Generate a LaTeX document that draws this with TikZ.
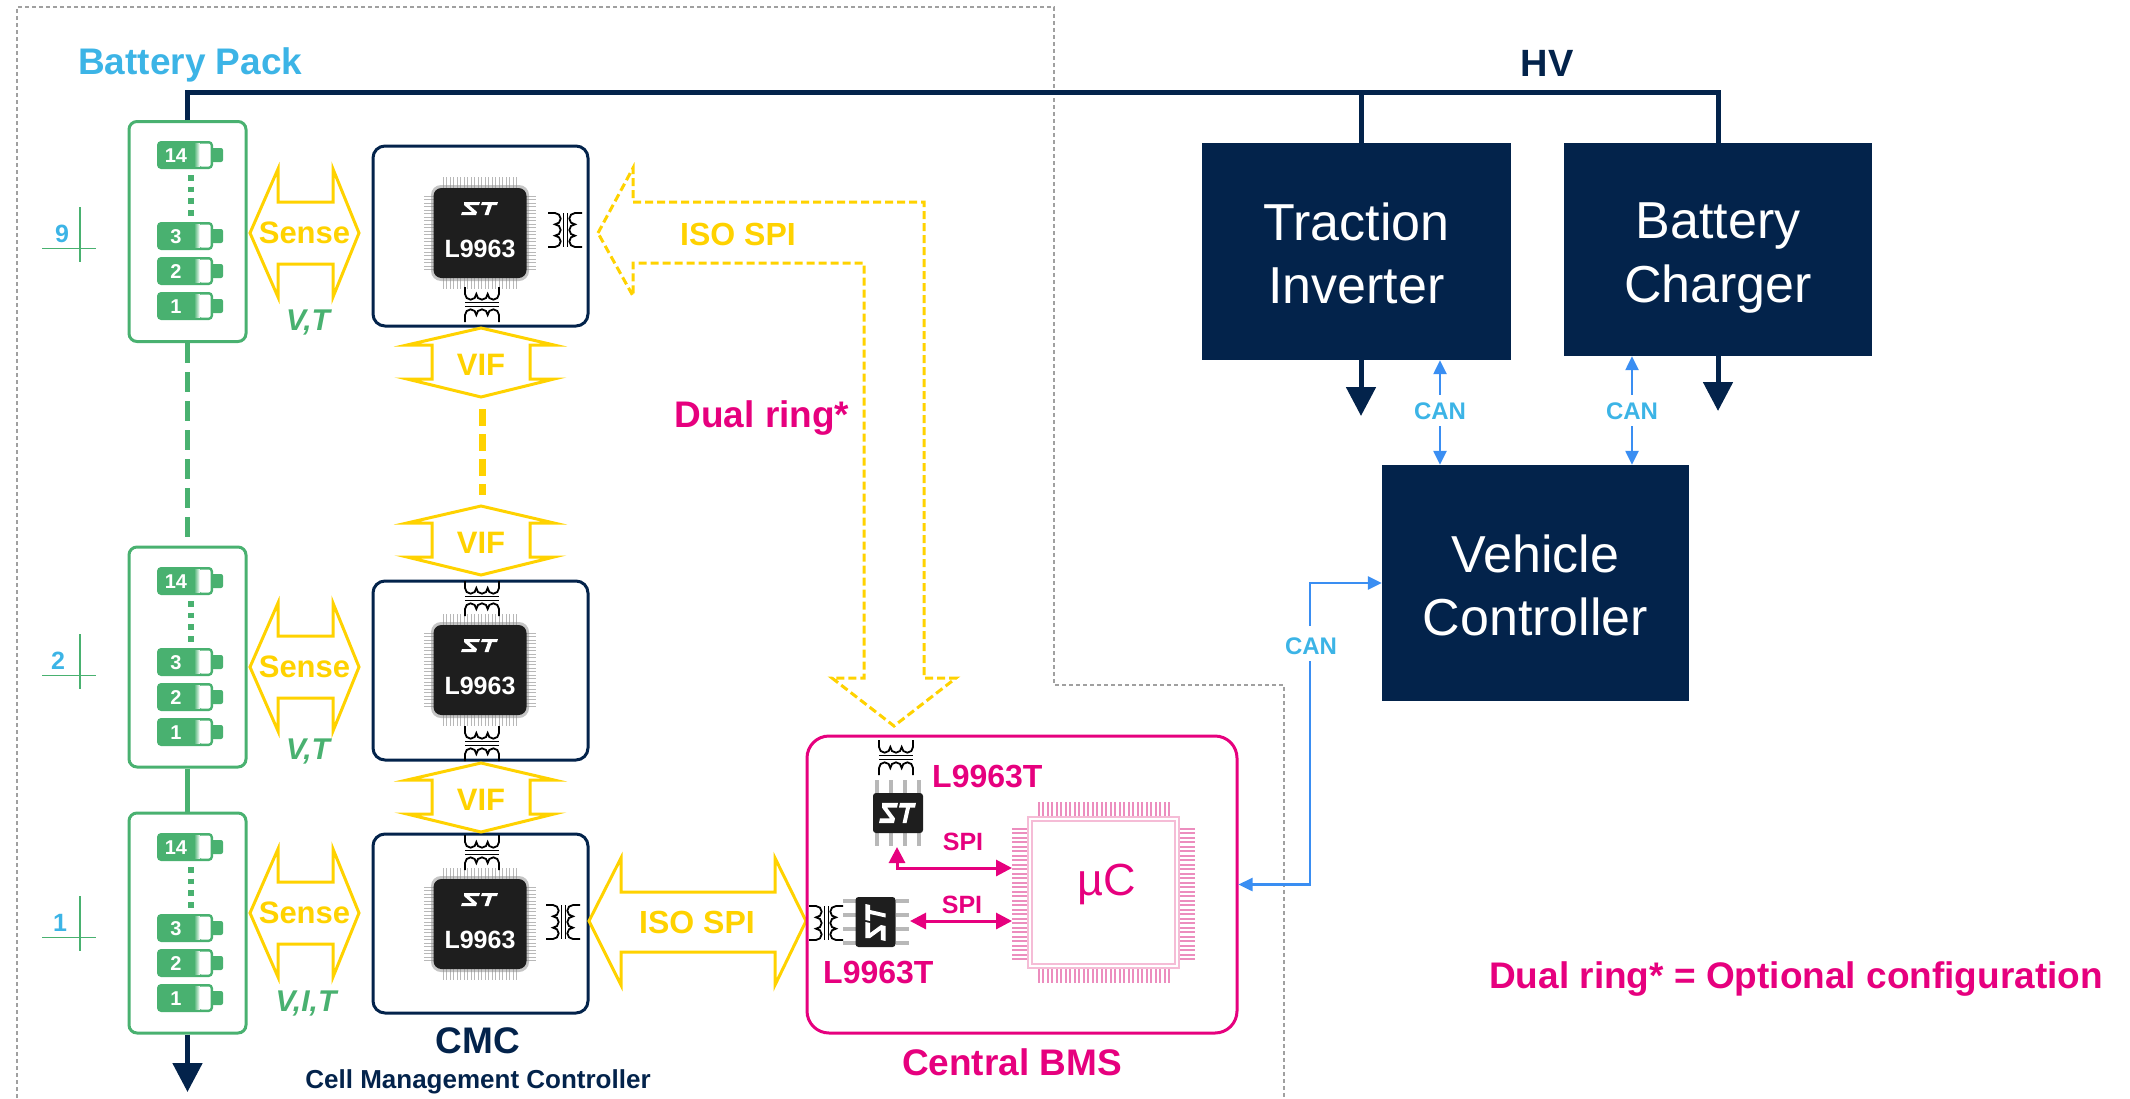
\documentclass[tikz,border=0pt]{standalone}
\usepackage{fontspec}
\setmainfont{Liberation Sans}
\usetikzlibrary{arrows.meta,calc}

\definecolor{stnavy}{HTML}{03234B}
\definecolor{styellow}{HTML}{FFD200}
\definecolor{stgreen}{HTML}{49B170}
\definecolor{stmagenta}{HTML}{E6007E}
\definecolor{stlblue}{HTML}{3CB4E6}
\definecolor{canblue}{HTML}{3A8EF2}
\definecolor{framegray}{HTML}{A0A0A0}
\definecolor{chipbody}{HTML}{1E1E1E}
\definecolor{chippin}{HTML}{B8B8B8}
\definecolor{ucpin}{HTML}{EC8DBE}
\definecolor{ucedge}{HTML}{F5BCD6}

\newcommand{\fsz}[1]{\fontsize{#1}{#1}\selectfont}

% ST logo, centred on the origin of the current scope
\newcommand{\stlogo}{%
  \fill[white] (-16,-6.5) -- (0,-6.5) -- (-1,-3.5) -- (-11,-3.5) -- (-3,3.5)
     -- (-4,6.5) -- (-19,6.5) -- (-18,3.5) -- (-8,3.5) -- (-16,-3.5) -- cycle;
  \fill[white] (2,-6.5) -- (18,-6.5) -- (17,-3.5) -- (12,-3.5) -- (8.5,6.5)
     -- (4.5,6.5) -- (8,-3.5) -- (1,-3.5) -- cycle;}

% transformer with the windings one above the other; #1,#2 = top-left corner
\newcommand{\xfmrv}[2]{%
  \begin{scope}[shift={(#1,#2)}, line width=1.8, black]
    \draw (0,0) -- (0,7) arc[start angle=180,end angle=0,radius=5.667]
      arc[start angle=180,end angle=0,radius=5.667]
      arc[start angle=180,end angle=0,radius=5.667] -- (34,0);
    \draw (0,15.5) -- (34,15.5) (0,19.5) -- (34,19.5);
    \draw (0,35) -- (0,28) arc[start angle=180,end angle=360,radius=5.667]
      arc[start angle=180,end angle=360,radius=5.667]
      arc[start angle=180,end angle=360,radius=5.667] -- (34,35);
  \end{scope}}

% transformer with the windings side by side; #1,#2 = top-left corner
\newcommand{\xfmrh}[2]{%
  \begin{scope}[shift={(#1,#2)}, line width=1.8, black]
    \draw (0,0) -- (7,0) arc[start angle=-90,end angle=90,radius=5.667]
      arc[start angle=-90,end angle=90,radius=5.667]
      arc[start angle=-90,end angle=90,radius=5.667] -- (0,34);
    \draw (15.5,0) -- (15.5,34) (19.5,0) -- (19.5,34);
    \draw (34,0) -- (27,0) arc[start angle=270,end angle=90,radius=5.667]
      arc[start angle=270,end angle=90,radius=5.667]
      arc[start angle=270,end angle=90,radius=5.667] -- (34,34);
  \end{scope}}

% QFP package of the cell monitor; #1,#2 = centre, #3 = name of its label
\newcommand{\qfp}[3]{%
  \begin{scope}[shift={(#1,#2)}]
    \foreach \i in {0,...,21} {
      \draw[chippin, line width=1.4] (-36.75+\i*3.5,-56) -- ++(0,11)
        (-36.75+\i*3.5,45) -- ++(0,11)
        (-56,-36.75+\i*3.5) -- ++(11,0)
        (45,-36.75+\i*3.5) -- ++(11,0);
    }
    \fill[black!45, opacity=.5, rounded corners=10] (-49,-48) rectangle (49,48);
    \fill[chipbody, rounded corners=8] (-46.5,-45) rectangle (46.5,45);
    \begin{scope}[shift={(0,-24.5)}] \stlogo \end{scope}
    \node[txt, text=white, font=\bfseries\fsz{25}] (#3) at (0,24) {L9963};
  \end{scope}}

% SO-8 package of the transceiver; #1,#2 = centre, #3 = rotation
\newcommand{\soeight}[3]{%
  \begin{scope}[shift={(#1,#2)}, rotate=#3]
    \foreach \i in {-1.5,-0.5,0.5,1.5} {
      \fill[chippin] (\i*13.7-2,-33) rectangle ++(4,13);
      \fill[chippin] (\i*13.7-2,20) rectangle ++(4,13);
    }
    \fill[chipbody, rounded corners=3] (-25,-20) rectangle (25,20);
    \begin{scope}[yscale=1.55] \stlogo \end{scope}
  \end{scope}}

% battery cell; #1,#2 = top-left corner of the body, #3 = number, #4 = name
\newcommand{\battcell}[4]{%
  \begin{scope}[shift={(#1,#2)}]
    \fill[stgreen, rounded corners=2] (54,7) rectangle (66,21);
    \fill[stgreen, rounded corners=4] (0,0) rectangle (56,28);
    \shade[left color=stgreen, right color=white] (37,2.5) rectangle (43,25.5);
    \fill[white, rounded corners=2] (42.5,2.5) rectangle (53.5,25.5);
    \node[inner sep=0, text=white, font=\bfseries\fsz{20}] (#4) at (19,14.5) {#3};
  \end{scope}}

% module number with its tick mark; #1 = number, #2 = x, #3 = baseline, #4 = name
\newcommand{\levelmark}[4]{%
  \node[txt, text=stlblue, font=\bfseries\fsz{25}] (#4) at (#2,#3) {#1};
  \draw[stgreen, line width=1.5] (42,#3+6.5) -- (96,#3+6.5) (80,#3-35) -- (80,#3+20);}

% Sense block arrow centred on y=#1
\newcommand{\sensearrow}[2]{%
  \draw[blockarrow] (250,#1) -- (278,#1-64) -- (278,#1-31) -- (333,#1-31) -- (333,#1-64)
     -- (359,#1) -- (333,#1+64) -- (333,#1+31) -- (278,#1+31) -- (278,#1+64) -- cycle;
  \node[txt, text=styellow, font=\bfseries\fsz{31}] (#2) at (304.5,#1+10) {Sense};}

% VIF block arrow with its upper tip at y=#1
\newcommand{\vifarrow}[2]{%
  \draw[blockarrow] (481,#1) -- (554,#1+17) -- (530,#1+17) -- (530,#1+51) -- (554,#1+51)
     -- (481,#1+69) -- (407,#1+51) -- (432,#1+51) -- (432,#1+17) -- (407,#1+17) -- cycle;
  \node[txt, text=styellow, font=\bfseries\fsz{31}] (#2) at (481,#1+47) {VIF};}

\begin{document}
\begin{tikzpicture}[x=1pt, y=-1pt,
  txt/.style={inner sep=0, anchor=base},
  battbox/.style={draw=stgreen, line width=3, rounded corners=8, minimum width=117,
    minimum height=220, inner sep=0},
  cmcbox/.style={draw=stnavy, line width=3, rounded corners=12, minimum width=215,
    minimum height=179, inner sep=0},
  navybox/.style={fill=stnavy, inner sep=0},
  boxtext/.style={txt, text=white, font=\fsz{52}},
  blockarrow/.style={draw=styellow, line width=3, line join=miter},
  hvline/.style={draw=stnavy, line width=5},
  hvarrow/.style={hvline, -{Triangle[length=29pt,width=29pt]}},
  canline/.style={draw=canblue, line width=2.5},
  canin/.style={canline, {Triangle[length=14pt,width=13pt]}-},
  canout/.style={canline, -{Triangle[length=14pt,width=13pt]}},
  canlbl/.style={txt, text=stlblue, font=\bfseries\fsz{24}},
  spiline/.style={draw=stmagenta, line width=3,
    {Triangle[length=16pt,width=16pt]}-{Triangle[length=16pt,width=16pt]}},
  maglbl/.style={txt, text=stmagenta, font=\bfseries\fsz{37}},
]
\useasboundingbox (0,0) rectangle (2130,1098);

% dashed border of the battery pack
\draw[framegray, line width=1.2, dash pattern=on 4pt off 3pt]
  (17,1098) -- (17,7) -- (1054,7) -- (1054,685) -- (1284,685) -- (1284,1098);

\node[txt, anchor=base west, text=stlblue, font=\bfseries\fsz{37}] (packlbl) at (78,74) {Battery Pack};
\node[txt, text=stnavy, font=\bfseries\fsz{38}] (hvlbl) at (1547,76) {HV};

% ---------------- battery modules ----------------
\node[battbox] (bp9) at (187.5,231.5) {};
\node[battbox] (bp2) at (187.5,657) {};
\node[battbox] (bp1) at (187.5,923) {};

\foreach \m/\T in {9/121, 2/547, 1/813} {
  \battcell{157}{\T+20}{14}{c\m-14}
  \battcell{157}{\T+101}{3}{c\m-3}
  \battcell{157}{\T+136}{2}{c\m-2}
  \battcell{157}{\T+171}{1}{c\m-1}
  \draw[stgreen, line width=6, dash pattern=on 5.5pt off 6.2pt] (191,\T+54) -- (191,\T+95);
}

\levelmark{9}{62}{242}{n9}
\levelmark{2}{58}{669}{n2}
\levelmark{1}{60}{931}{n1}

\draw[stgreen, line width=5, dash pattern=on 20pt off 9pt] (bp9.south) -- (bp2.north);
\draw[stgreen, line width=5] (bp2.south) -- (bp1.north);
\coordinate (packminus) at (187.5,1092);
\draw[hvarrow] (bp1.south) -- (packminus);

% ---------------- cell management controllers ----------------
\sensearrow{233}{sense9}
\sensearrow{667}{sense2}
\sensearrow{913}{sense1}
\node[txt, text=stgreen, font=\bfseries\itshape\fsz{30}] (vt9) at (308,330) {V,T};
\node[txt, text=stgreen, font=\bfseries\itshape\fsz{30}] (vt2) at (308,759) {V,T};
\node[txt, text=stgreen, font=\bfseries\itshape\fsz{30}] (vit1) at (306,1011) {V,I,T};

\node[cmcbox, minimum height=180] (cmc9) at (480.5,236) {};
\node[cmcbox] (cmc2) at (480.5,670.5) {};
\node[cmcbox] (cmc1) at (480.5,923.5) {};

\qfp{480}{233}{ic9}
\qfp{480}{670}{ic2}
\qfp{480}{924}{ic1}

\xfmrh{548}{213}
\xfmrv{465}{287}
\xfmrv{465}{581}
\xfmrv{465}{726}
\xfmrv{465}{835}
\xfmrh{546}{905}

\vifarrow{328}{vif9}
\vifarrow{506}{vif2}
\vifarrow{763}{vif1}
\coordinate (daisyA) at (482,409);
\coordinate (daisyB) at (482,495);
\draw[styellow, line width=7, dash pattern=on 17pt off 8pt] (daisyA) -- (daisyB);

\node[txt, text=stnavy, font=\bfseries\fsz{37}] (cmclbl) at (478,1053) {CMC};
\node[txt, text=stnavy, font=\bfseries\fsz{26}] (cmcfull) at (478,1088) {Cell Management Controller};

% ---------------- isoSPI links ----------------
\draw[styellow, line width=3, dash pattern=on 8pt off 4pt, line join=miter]
  (598,233) -- (633,168) -- (633,202) -- (924,202) -- (924,678) -- (956,678) -- (894,726)
  -- (832,678) -- (864,678) -- (864,263) -- (633,263) -- (633,296) -- cycle;
\node[txt, text=styellow, font=\bfseries\fsz{32}] (isoring) at (738,245) {ISO SPI};
\node[maglbl] (dualring) at (762,427) {Dual ring*};

\draw[blockarrow] (589,921) -- (621,858) -- (621,892) -- (775,892) -- (775,858) -- (806,921)
  -- (775,985) -- (775,952) -- (621,952) -- (621,985) -- cycle;
\node[txt, text=styellow, font=\bfseries\fsz{32}] (isomain) at (697,933) {ISO SPI};

% ---------------- central BMS ----------------
\node[draw=stmagenta, line width=3, rounded corners=22, minimum width=430, minimum height=297,
  inner sep=0] (bms) at (1022,884.5) {};
\node[maglbl] (bmslbl) at (1012,1075) {Central BMS};

\xfmrv{879}{740}
\soeight{898}{813}{0}
\soeight{875.5}{922}{90}
\xfmrh{809}{906}
\node[txt, anchor=base west, text=stmagenta, font=\bfseries\fsz{32}] (tr1) at (932,787) {L9963T};
\node[txt, anchor=base west, text=stmagenta, font=\bfseries\fsz{32}] (tr2) at (823,983) {L9963T};

% microcontroller
\foreach \i in {0,...,29} {
  \draw[ucpin, line width=2] (1038.5+\i*4.5,802) -- ++(0,14)
    (1038.5+\i*4.5,969) -- ++(0,14)
    (1012,828.5+\i*4.5) -- ++(16,0)
    (1179,828.5+\i*4.5) -- ++(16,0);
}
\draw[ucedge, line width=1.5] (1028,817) rectangle (1179,968);
\draw[ucedge, line width=1.5] (1032,821) rectangle (1175,964);
\node[txt, text=stmagenta, font=\fsz{45}] (uc) at (1107,895) {µC};

\coordinate (tr1pin) at (897,847);
\coordinate (ucspi1) at (1012,868);
\coordinate (tr2pin) at (910,921);
\coordinate (ucspi2) at (1012,921);
\draw[spiline] (tr1pin) |- (ucspi1);
\draw[spiline] (tr2pin) -- (ucspi2);
\node[txt, text=stmagenta, font=\bfseries\fsz{25}] (spi1) at (963,850) {SPI};
\node[txt, text=stmagenta, font=\bfseries\fsz{25}] (spi2) at (962,913) {SPI};

% ---------------- vehicle side ----------------
\node[navybox, minimum width=309, minimum height=217] (ti) at (1356.5,251.5) {};
\node[navybox, minimum width=308, minimum height=213] (bc) at (1718,249.5) {};
\node[navybox, minimum width=307, minimum height=236] (vc) at (1535.5,583) {};
\node[boxtext] (ti1) at (1356.5,240) {Traction};
\node[boxtext] (ti2) at (1356.5,303) {Inverter};
\node[boxtext] (bc1) at (1718,238) {Battery};
\node[boxtext] (bc2) at (1718,302) {Charger};
\node[boxtext] (vc1) at (1535.5,572) {Vehicle};
\node[boxtext] (vc2) at (1535.5,635) {Controller};

% HV bus
\coordinate (hvL) at (187.5,92);
\coordinate (hvT) at (1361,92);
\coordinate (hvR) at (1718,92);
\draw[hvline] (bp9.north) -- (hvL) -- (hvR) -- (bc.north);
\draw[hvline] (hvT) -- (hvT |- ti.north);
\coordinate (tiout) at (1361,416);
\coordinate (bcout) at (1718,411);
\draw[hvarrow] (hvT |- ti.south) -- (tiout);
\draw[hvarrow] (bc.south) -- (bcout);

% CAN links
\coordinate (canA) at (1440,0);
\coordinate (canB) at (1632,0);
\draw[canin] (canA |- ti.south) -- (1440,395);
\draw[canout] (1440,426) -- (canA |- vc.north);
\node[canlbl] (can1) at (1440,419) {CAN};
\draw[canin] (canB |- bc.south) -- (1632,395);
\draw[canout] (1632,426) -- (canB |- vc.north);
\node[canlbl] (can2) at (1632,419) {CAN};
\draw[canin] (bms.east) -| (1310,661);
\draw[canout] (1310,626) |- (vc.west);
\node[canlbl] (can3) at (1311,654) {CAN};

\node[maglbl, anchor=base west] (note) at (1489,988) {Dual ring* = Optional configuration};
\end{tikzpicture}
\end{document}
